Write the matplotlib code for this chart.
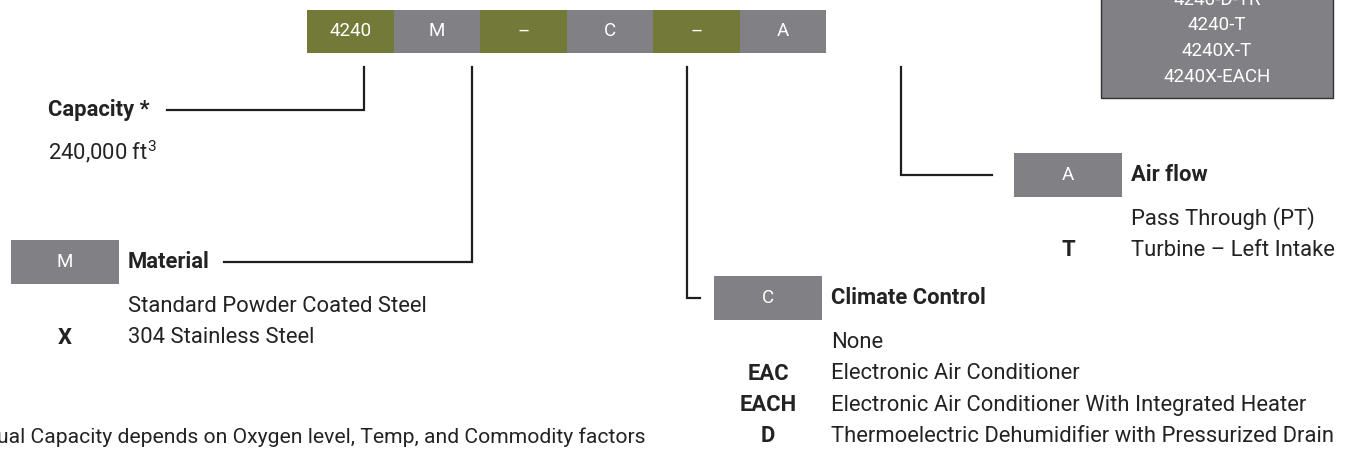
import matplotlib.pyplot as plt
from matplotlib.patches import Rectangle

# model number parts (top bar)
code_parts = ['4240', 'M', '–', 'C', '–', 'A']

# option tables
material_codes = ['', 'X']
material_desc = ['Standard Powder Coated Steel', '304 Stainless Steel']
climate_codes = ['', 'EAC', 'EACH', 'D']
climate_desc = ['None', 'Electronic Air Conditioner',
                'Electronic Air Conditioner With Integrated Heater',
                'Thermoelectric Dehumidifier with Pressurized Drain']
airflow_codes = ['', 'T']
airflow_desc = ['Pass Through (PT)', 'Turbine – Left Intake']
example_models = ['4240-D-TR', '4240-T', '4240X-T', '4240X-EACH']

OLIVE = '#737a37'
GRAY = '#808085'
TXT = '#232323'
LINE = '#1e1e1e'

plt.rcParams['font.family'] = ['Roboto', 'DejaVu Sans']
plt.rcParams['mathtext.default'] = 'regular'

fig = plt.figure(figsize=(13.5, 4.53), dpi=100)
ax = fig.add_axes([0, 0, 1, 1])
ax.set_xlim(0, 1350)
ax.set_ylim(453, 0)
ax.axis('off')

FS = 15.8      # body text
FS_BOX = 13.5  # white text on grey / olive

# top bar
x0, seg_w, bar_top, bar_h = 307, 86.5, 10, 43
for i, part in enumerate(code_parts):
    xs = x0 + i * seg_w
    ax.add_patch(Rectangle((xs, bar_top), seg_w, bar_h,
                           facecolor=OLIVE if i % 2 == 0 else GRAY, edgecolor='none'))
    ax.text(xs + seg_w / 2, bar_top + bar_h / 2, part, color='white',
            fontsize=FS_BOX, ha='center', va='center')

# example models box (top right)
ax.add_patch(Rectangle((1101, -20), 232, 118, facecolor=GRAY, edgecolor='#333333', lw=1))
for j, m in enumerate(example_models):
    ax.text(1217, 0 + j * 25.5, m, color='white', fontsize=FS_BOX,
            ha='center', va='center')


def leader(xv, yh, xend):
    ax.plot([xv, xv, xend], [67, yh, yh], color=LINE, lw=1.6, solid_joinstyle='miter')


# capacity
leader(364, 110, 167)
ax.text(48, 110, 'Capacity *', fontsize=FS, fontweight='bold', color=TXT, va='center')
ax.text(48, 152, '240,000 ft$^{3}$', fontsize=FS, color=TXT, va='center')


def option_block(bx, by, code, title, codes, descs, first_gap=44, step=31.5):
    ax.add_patch(Rectangle((bx, by - 22), 108, 44, facecolor=GRAY, edgecolor='none'))
    ax.text(bx + 54, by, code, color='white', fontsize=FS_BOX, ha='center', va='center')
    ax.text(bx + 117, by, title, fontsize=FS, fontweight='bold', color=TXT, va='center')
    for k, (c, d) in enumerate(zip(codes, descs)):
        yy = by + first_gap + k * step
        ax.text(bx + 54, yy, c, fontsize=FS, fontweight='bold', color=TXT,
                ha='center', va='center')
        ax.text(bx + 117, yy, d, fontsize=FS, color=TXT, va='center')


# material
leader(472, 262, 224)
option_block(11, 262, 'M', 'Material', material_codes, material_desc)

# climate control
leader(687, 298, 700)
option_block(714, 298, 'C', 'Climate Control', climate_codes, climate_desc)

# air flow
leader(901, 175, 992)
option_block(1014, 175, 'A', 'Air flow', airflow_codes, airflow_desc)

# footnote (cut at the left edge, as in the source)
ax.text(645, 437, '*Actual Capacity depends on Oxygen level, Temp, and Commodity factors',
        fontsize=15.2, color=TXT, ha='right', va='center')

fig.savefig('out.png', dpi=100)
